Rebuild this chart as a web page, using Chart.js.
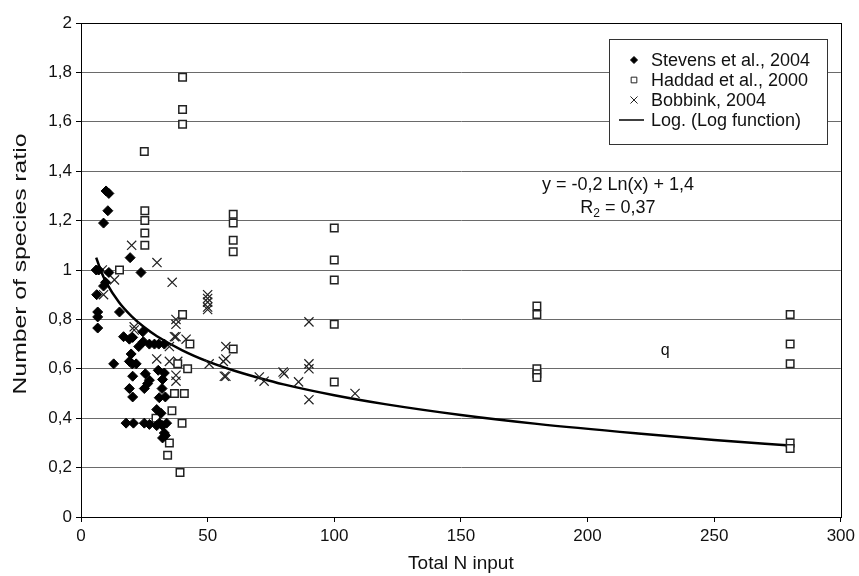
<!DOCTYPE html>
<html>
<head>
<meta charset="utf-8">
<script src="https://cdn.jsdelivr.net/npm/chart.js@4"></script>
<style>
  html, body { margin: 0; padding: 0; background: #fff; }
  #wrap { width: 859px; height: 576px; }
</style>
</head>
<body>
<div id="wrap"><canvas id="chart"></canvas></div>
<script>
// Species ratio vs total N input, three studies plus the fitted log curve

const stevensX = [6, 7, 9.9, 11, 10.6, 8.9, 19.4, 11, 23.7, 9.7, 8.9, 6.2, 6.6, 6.6, 15.2, 6.6,
  16.8, 19.1, 20.4, 24.4, 22.8, 24.6, 27, 29, 30.7, 32.9, 19.8, 12.9, 19.1, 20.2, 21.8,
  20.4, 25.4, 27, 26.3, 25, 19.1, 20.4, 30.5, 32.9, 32.2, 32, 30.9, 33.3, 29.9, 31.6,
  17.8, 20.7, 25, 27, 29.9, 30.9, 32.2, 33.8, 32.9, 33.3, 32.2];
const stevensY = [1.0, 1.0, 1.32, 1.31, 1.24, 1.19, 1.05, 0.99, 0.99, 0.95, 0.935, 0.90, 0.83, 0.81, 0.83, 0.765,
  0.73, 0.72, 0.727, 0.75, 0.69, 0.71, 0.70, 0.70, 0.70, 0.70, 0.66, 0.62, 0.63, 0.62, 0.62,
  0.57, 0.58, 0.554, 0.54, 0.52, 0.52, 0.486, 0.594, 0.583, 0.557, 0.52, 0.483, 0.486, 0.435, 0.42,
  0.38, 0.38, 0.38, 0.375, 0.37, 0.38, 0.37, 0.38, 0.34, 0.33, 0.32];

const haddadX = [15.2, 25, 25.2, 25.2, 25.2, 25.2, 40.1, 40.1, 40.1, 40.1, 43, 60.1, 38.2, 42.1,
  36.9, 40.8, 35.9, 39.9, 34.9, 34.2, 39.1, 29.6, 60.1, 60.1, 60.1, 60.1,
  100, 100, 100, 100, 100, 180, 180, 180, 180, 180, 280, 280, 280, 280, 280];
const haddadY = [1.0, 1.48, 1.24, 1.20, 1.15, 1.10, 1.78, 1.65, 1.59, 0.82, 0.70, 0.68, 0.62, 0.60,
  0.50, 0.50, 0.43, 0.38, 0.30, 0.25, 0.18, 0.40, 1.226, 1.19, 1.12, 1.074,
  1.17, 1.04, 0.96, 0.78, 0.547, 0.854, 0.82, 0.60, 0.58, 0.565, 0.82, 0.70, 0.62, 0.30, 0.277];

const bobbinkX = [8.4, 13.2, 8.9, 20, 30, 36, 21, 21, 37.5, 37.5, 34.9, 29.9, 34.9,
  50, 50, 50, 50, 50, 36.9, 37.5, 41.5, 57.2, 57.2, 38.2, 50.6, 56.2, 56.6, 57.2,
  37.5, 37.5, 70.4, 72.3, 90, 79.8, 80.2, 90, 90, 85.9, 90, 108.2];
const bobbinkY = [1.0, 0.96, 0.90, 1.10, 1.03, 0.95, 0.77, 0.757, 0.80, 0.78, 0.69, 0.64, 0.63,
  0.90, 0.885, 0.87, 0.85, 0.84, 0.73, 0.73, 0.72, 0.69, 0.64, 0.63, 0.62, 0.63, 0.57, 0.57,
  0.574, 0.55, 0.567, 0.55, 0.79, 0.587, 0.58, 0.62, 0.60, 0.547, 0.475, 0.50];

// log trend line
const trendX = [6, 8, 10, 15, 20, 25, 30, 40, 50, 60, 70, 80, 100, 120, 150, 180, 220, 250, 280];
const trendY = [1.05, 0.993, 0.949, 0.869, 0.812, 0.768, 0.732, 0.675, 0.63, 0.594, 0.564, 0.537,
  0.493, 0.457, 0.413, 0.377, 0.338, 0.312, 0.289];

const seriesLabels = ['Stevens et al., 2004', 'Haddad et al., 2000', 'Bobbink, 2004', 'Log. (Log function)'];
const equationText = ['y = -0,2 Ln(x) + 1,4', 'R', '2', ' = 0,37'];
const xTitle = 'Total N input';
const yTitle = 'Number of species ratio';

const FONT = "'Liberation Sans', Arial, sans-serif";

function pts(xs, ys) {
    return xs.map((x, i) => ({ x: x, y: ys[i] }));
}

// frame, axis titles, equation and the boxed legend
const decorPlugin = {
    id: 'decor',
    beforeDatasetsDraw(chart) {
        const ctx = chart.ctx;
        const a = chart.chartArea;
        ctx.save();
        ctx.strokeStyle = '#000';
        ctx.lineWidth = 1;
        ctx.strokeRect(Math.round(a.left) + 0.5, Math.round(a.top) + 0.5,
            Math.round(a.right - a.left), Math.round(a.bottom - a.top));
        ctx.restore();
    },
    afterDatasetsDraw(chart) {
        const ctx = chart.ctx;
        const a = chart.chartArea;
        const xs = chart.scales.x, ys = chart.scales.y;
        ctx.save();
        ctx.fillStyle = '#111';

        // axis titles
        ctx.font = '19px ' + FONT;
        ctx.textAlign = 'center';
        ctx.textBaseline = 'middle';
        ctx.fillText(xTitle, (a.left + a.right) / 2, 564);
        ctx.save();
        ctx.translate(21, (a.top + a.bottom) / 2 - 6);
        ctx.rotate(-Math.PI / 2);
        ctx.scale(1.3, 1);
        ctx.fillText(yTitle, 0, 0);
        ctx.restore();

        // equation
        ctx.font = '18px ' + FONT;
        const ex = xs.getPixelForValue(212);
        ctx.fillText(equationText[0], ex, ys.getPixelForValue(1.345));
        const ry = ys.getPixelForValue(1.25);
        ctx.textAlign = 'left';
        const w1 = ctx.measureText(equationText[1]).width;
        const w3 = ctx.measureText(equationText[3]).width;
        ctx.font = '12px ' + FONT;
        const w2 = ctx.measureText(equationText[2]).width;
        const sx = ex - (w1 + w2 + w3) / 2;
        ctx.font = '18px ' + FONT;
        ctx.fillText(equationText[1], sx, ry);
        ctx.font = '12px ' + FONT;
        ctx.fillText(equationText[2], sx + w1, ry + 5);
        ctx.font = '18px ' + FONT;
        ctx.fillText(equationText[3], sx + w1 + w2, ry);

        // stray label from the source figure
        ctx.font = '16px ' + FONT;
        ctx.textAlign = 'center';
        ctx.fillText('q', xs.getPixelForValue(230.7), ys.getPixelForValue(0.675));

        // legend box
        const bx = 609, by = 39, bw = 218, bh = 105;
        ctx.fillStyle = '#fff';
        ctx.fillRect(bx, by, bw, bh);
        ctx.strokeStyle = '#333';
        ctx.lineWidth = 1;
        ctx.strokeRect(bx + 0.5, by + 0.5, bw, bh);

        const rowY = [60, 80, 100, 120];
        const mx = 634;
        chart.data.datasets.forEach((ds, i) => {
            const y = rowY[i];
            ctx.fillStyle = ds.backgroundColor;
            ctx.strokeStyle = ds.borderColor;
            if (ds.showLine) {
                ctx.lineWidth = 1.5;
                ctx.beginPath();
                ctx.moveTo(619, y);
                ctx.lineTo(644, y);
                ctx.stroke();
            } else {
                Chart.helpers.drawPoint(ctx, {
                    pointStyle: ds.pointStyle,
                    radius: ds.legendRadius,
                    rotation: 0,
                    borderWidth: ds.pointBorderWidth
                }, mx, y);
            }
            ctx.fillStyle = '#111';
            ctx.font = '18px ' + FONT;
            ctx.textAlign = 'left';
            ctx.textBaseline = 'middle';
            ctx.fillText(ds.label, 651, y + 1);
        });
        ctx.restore();
    }
};

const chart = new Chart(document.getElementById('chart'), {
    type: 'scatter',
    data: {
        datasets: [{
            label: seriesLabels[0],
            data: pts(stevensX, stevensY),
            pointStyle: 'rectRot',
            pointRadius: 5,
            legendRadius: 3.5,
            backgroundColor: '#000',
            borderColor: '#000',
            pointBorderWidth: 1
        }, {
            label: seriesLabels[1],
            data: pts(haddadX, haddadY),
            pointStyle: 'rect',
            pointRadius: 5.3,
            legendRadius: 4,
            backgroundColor: '#fff',
            borderColor: '#222',
            pointBorderWidth: 1.5
        }, {
            label: seriesLabels[2],
            data: pts(bobbinkX, bobbinkY),
            pointStyle: 'crossRot',
            pointRadius: 6.5,
            legendRadius: 5,
            backgroundColor: '#000',
            borderColor: '#222',
            pointBorderWidth: 1.2
        }, {
            label: seriesLabels[3],
            data: pts(trendX, trendY),
            showLine: true,
            pointRadius: 0,
            borderColor: '#000',
            backgroundColor: '#000',
            borderWidth: 2.5,
            cubicInterpolationMode: 'monotone'
        }]
    },
    options: {
        responsive: true,
        maintainAspectRatio: false,
        animation: false,
        layout: { padding: { top: 23, right: 17, left: 0, bottom: 0 } },
        plugins: {
            legend: { display: false },
            tooltip: { enabled: false }
        },
        scales: {
            x: {
                type: 'linear',
                min: 0,
                max: 300,
                afterFit: s => { s.height = 59; },
                ticks: {
                    stepSize: 50,
                    color: '#111',
                    font: { family: FONT, size: 17 },
                    padding: 4,
                    maxRotation: 0
                },
                grid: {
                    drawOnChartArea: false,
                    tickLength: 5,
                    tickColor: '#000'
                },
                border: { color: '#000', width: 1 }
            },
            y: {
                min: 0,
                max: 2,
                afterFit: s => { s.width = 81; },
                ticks: {
                    stepSize: 0.2,
                    color: '#111',
                    font: { family: FONT, size: 17 },
                    padding: 4,
                    callback: v => String(Number(v.toFixed(1))).replace('.', ',')
                },
                grid: {
                    color: '#6a6a6a',
                    lineWidth: 1,
                    tickLength: 5,
                    tickColor: '#000'
                },
                border: { color: '#000', width: 1 }
            }
        }
    },
    plugins: [decorPlugin]
});
</script>
</body>
</html>
